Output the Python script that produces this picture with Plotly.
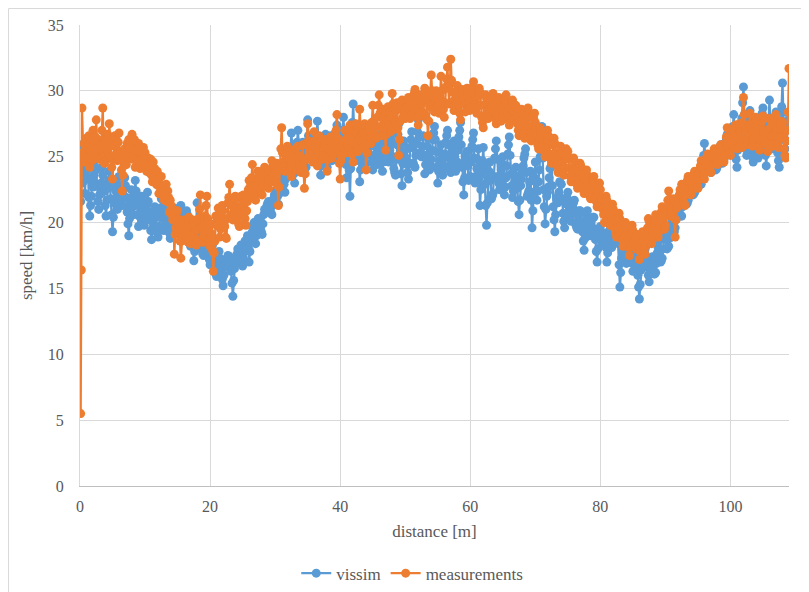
import plotly.graph_objects as go

distance = [0.0, 0.1, 0.2, 0.3,
    0.5, 0.625, 0.75, 0.875, 1.0, 1.125, 1.25, 1.375, 1.5, 1.625, 1.75, 1.875, 2.0, 2.125, 2.25, 2.375, 2.5, 2.625, 2.75, 2.875, 3.0, 3.125, 3.25, 3.375, 3.5, 3.625, 3.75, 3.875, 4.0, 4.125, 4.25, 4.375, 4.5, 4.625, 4.75, 4.875, 5.0, 5.125, 5.25, 5.375,
    5.5, 5.625, 5.75, 5.875, 6.0, 6.125, 6.25, 6.375, 6.5, 6.625, 6.75, 6.875, 7.0, 7.125, 7.25, 7.375, 7.5, 7.625, 7.75, 7.875, 8.0, 8.125, 8.25, 8.375, 8.5, 8.625, 8.75, 8.875, 9.0, 9.125, 9.25, 9.375, 9.5, 9.625, 9.75, 9.875, 10.0, 10.125, 10.25, 10.375,
    10.5, 10.625, 10.75, 10.875, 11.0, 11.125, 11.25, 11.375, 11.5, 11.625, 11.75, 11.875, 12.0, 12.125, 12.25, 12.375, 12.5, 12.625, 12.75, 12.875, 13.0, 13.125, 13.25, 13.375, 13.5, 13.625, 13.75, 13.875, 14.0, 14.125, 14.25, 14.375, 14.5, 14.625, 14.75, 14.875, 15.0, 15.125, 15.25, 15.375,
    15.5, 15.625, 15.75, 15.875, 16.0, 16.125, 16.25, 16.375, 16.5, 16.625, 16.75, 16.875, 17.0, 17.125, 17.25, 17.375, 17.5, 17.625, 17.75, 17.875, 18.0, 18.125, 18.25, 18.375, 18.5, 18.625, 18.75, 18.875, 19.0, 19.125, 19.25, 19.375, 19.5, 19.625, 19.75, 19.875, 20.0, 20.125, 20.25, 20.375,
    20.5, 20.625, 20.75, 20.875, 21.0, 21.125, 21.25, 21.375, 21.5, 21.625, 21.75, 21.875, 22.0, 22.125, 22.25, 22.375, 22.5, 22.625, 22.75, 22.875, 23.0, 23.125, 23.25, 23.375, 23.5, 23.625, 23.75, 23.875, 24.0, 24.125, 24.25, 24.375, 24.5, 24.625, 24.75, 24.875, 25.0, 25.125, 25.25, 25.375,
    25.5, 25.625, 25.75, 25.875, 26.0, 26.125, 26.25, 26.375, 26.5, 26.625, 26.75, 26.875, 27.0, 27.125, 27.25, 27.375, 27.5, 27.625, 27.75, 27.875, 28.0, 28.125, 28.25, 28.375, 28.5, 28.625, 28.75, 28.875, 29.0, 29.125, 29.25, 29.375, 29.5, 29.625, 29.75, 29.875, 30.0, 30.125, 30.25, 30.375,
    30.5, 30.625, 30.75, 30.875, 31.0, 31.125, 31.25, 31.375, 31.5, 31.625, 31.75, 31.875, 32.0, 32.125, 32.25, 32.375, 32.5, 32.625, 32.75, 32.875, 33.0, 33.125, 33.25, 33.375, 33.5, 33.625, 33.75, 33.875, 34.0, 34.125, 34.25, 34.375, 34.5, 34.625, 34.75, 34.875, 35.0, 35.125, 35.25, 35.375,
    35.5, 35.625, 35.75, 35.875, 36.0, 36.125, 36.25, 36.375, 36.5, 36.625, 36.75, 36.875, 37.0, 37.125, 37.25, 37.375, 37.5, 37.625, 37.75, 37.875, 38.0, 38.125, 38.25, 38.375, 38.5, 38.625, 38.75, 38.875, 39.0, 39.125, 39.25, 39.375, 39.5, 39.625, 39.75, 39.875, 40.0, 40.125, 40.25, 40.375,
    40.5, 40.625, 40.75, 40.875, 41.0, 41.125, 41.25, 41.375, 41.5, 41.625, 41.75, 41.875, 42.0, 42.125, 42.25, 42.375, 42.5, 42.625, 42.75, 42.875, 43.0, 43.125, 43.25, 43.375, 43.5, 43.625, 43.75, 43.875, 44.0, 44.125, 44.25, 44.375, 44.5, 44.625, 44.75, 44.875, 45.0, 45.125, 45.25, 45.375,
    45.5, 45.625, 45.75, 45.875, 46.0, 46.125, 46.25, 46.375, 46.5, 46.625, 46.75, 46.875, 47.0, 47.125, 47.25, 47.375, 47.5, 47.625, 47.75, 47.875, 48.0, 48.125, 48.25, 48.375, 48.5, 48.625, 48.75, 48.875, 49.0, 49.125, 49.25, 49.375, 49.5, 49.625, 49.75, 49.875, 50.0, 50.125, 50.25, 50.375,
    50.5, 50.625, 50.75, 50.875, 51.0, 51.125, 51.25, 51.375, 51.5, 51.625, 51.75, 51.875, 52.0, 52.125, 52.25, 52.375, 52.5, 52.625, 52.75, 52.875, 53.0, 53.125, 53.25, 53.375, 53.5, 53.625, 53.75, 53.875, 54.0, 54.125, 54.25, 54.375, 54.5, 54.625, 54.75, 54.875, 55.0, 55.125, 55.25, 55.375,
    55.5, 55.625, 55.75, 55.875, 56.0, 56.125, 56.25, 56.375, 56.5, 56.625, 56.75, 56.875, 57.0, 57.125, 57.25, 57.375, 57.5, 57.625, 57.75, 57.875, 58.0, 58.125, 58.25, 58.375, 58.5, 58.625, 58.75, 58.875, 59.0, 59.125, 59.25, 59.375, 59.5, 59.625, 59.75, 59.875, 60.0, 60.125, 60.25, 60.375,
    60.5, 60.625, 60.75, 60.875, 61.0, 61.125, 61.25, 61.375, 61.5, 61.625, 61.75, 61.875, 62.0, 62.125, 62.25, 62.375, 62.5, 62.625, 62.75, 62.875, 63.0, 63.125, 63.25, 63.375, 63.5, 63.625, 63.75, 63.875, 64.0, 64.125, 64.25, 64.375, 64.5, 64.625, 64.75, 64.875, 65.0, 65.125, 65.25, 65.375,
    65.5, 65.625, 65.75, 65.875, 66.0, 66.125, 66.25, 66.375, 66.5, 66.625, 66.75, 66.875, 67.0, 67.125, 67.25, 67.375, 67.5, 67.625, 67.75, 67.875, 68.0, 68.125, 68.25, 68.375, 68.5, 68.625, 68.75, 68.875, 69.0, 69.125, 69.25, 69.375, 69.5, 69.625, 69.75, 69.875, 70.0, 70.125, 70.25, 70.375,
    70.5, 70.625, 70.75, 70.875, 71.0, 71.125, 71.25, 71.375, 71.5, 71.625, 71.75, 71.875, 72.0, 72.125, 72.25, 72.375, 72.5, 72.625, 72.75, 72.875, 73.0, 73.125, 73.25, 73.375, 73.5, 73.625, 73.75, 73.875, 74.0, 74.125, 74.25, 74.375, 74.5, 74.625, 74.75, 74.875, 75.0, 75.125, 75.25, 75.375,
    75.5, 75.625, 75.75, 75.875, 76.0, 76.125, 76.25, 76.375, 76.5, 76.625, 76.75, 76.875, 77.0, 77.125, 77.25, 77.375, 77.5, 77.625, 77.75, 77.875, 78.0, 78.125, 78.25, 78.375, 78.5, 78.625, 78.75, 78.875, 79.0, 79.125, 79.25, 79.375, 79.5, 79.625, 79.75, 79.875, 80.0, 80.125, 80.25, 80.375,
    80.5, 80.625, 80.75, 80.875, 81.0, 81.125, 81.25, 81.375, 81.5, 81.625, 81.75, 81.875, 82.0, 82.125, 82.25, 82.375, 82.5, 82.625, 82.75, 82.875, 83.0, 83.125, 83.25, 83.375, 83.5, 83.625, 83.75, 83.875, 84.0, 84.125, 84.25, 84.375, 84.5, 84.625, 84.75, 84.875, 85.0, 85.125, 85.25, 85.375,
    85.5, 85.625, 85.75, 85.875, 86.0, 86.125, 86.25, 86.375, 86.5, 86.625, 86.75, 86.875, 87.0, 87.125, 87.25, 87.375, 87.5, 87.625, 87.75, 87.875, 88.0, 88.125, 88.25, 88.375, 88.5, 88.625, 88.75, 88.875, 89.0, 89.125, 89.25, 89.375, 89.5, 89.625, 89.75, 89.875, 90.0, 90.125, 90.25, 90.375,
    90.5, 90.625, 90.75, 90.875, 91.0, 91.125, 91.25, 91.375, 91.5, 91.625, 91.75, 91.875, 92.0, 92.125, 92.25, 92.375, 92.5, 92.625, 92.75, 92.875, 93.0, 93.125, 93.25, 93.375, 93.5, 93.625, 93.75, 93.875, 94.0, 94.125, 94.25, 94.375, 94.5, 94.625, 94.75, 94.875, 95.0, 95.125, 95.25, 95.375,
    95.5, 95.625, 95.75, 95.875, 96.0, 96.125, 96.25, 96.375, 96.5, 96.625, 96.75, 96.875, 97.0, 97.125, 97.25, 97.375, 97.5, 97.625, 97.75, 97.875, 98.0, 98.125, 98.25, 98.375, 98.5, 98.625, 98.75, 98.875, 99.0, 99.125, 99.25, 99.375, 99.5, 99.625, 99.75, 99.875, 100.0, 100.125, 100.25, 100.375,
    100.5, 100.625, 100.75, 100.875, 101.0, 101.125, 101.25, 101.375, 101.5, 101.625, 101.75, 101.875, 102.0, 102.125, 102.25, 102.375, 102.5, 102.625, 102.75, 102.875, 103.0, 103.125, 103.25, 103.375, 103.5, 103.625, 103.75, 103.875, 104.0, 104.125, 104.25, 104.375, 104.5, 104.625, 104.75, 104.875, 105.0, 105.125, 105.25, 105.375,
    105.5, 105.625, 105.75, 105.875, 106.0, 106.125, 106.25, 106.375, 106.5, 106.625, 106.75, 106.875, 107.0, 107.125, 107.25, 107.375, 107.5, 107.625, 107.75, 107.875, 108.0, 108.125, 108.25, 108.375, 108.5, 108.625, 108.75, 108.875, 109.0]

vissim = [24.8, 21.6, 23.0, 25.9,
    23.1, 24.0, 22.2, 23.3, 24.6, 24.0, 23.4, 21.9, 20.5, 21.3, 22.0, 23.1, 22.7, 23.6, 24.3, 22.8, 24.0, 22.9, 21.6, 21.0, 22.1, 22.6, 23.0, 24.2, 23.6, 22.9, 22.4, 21.3, 20.5, 21.7, 22.6, 23.2, 23.9, 22.7, 21.8, 20.6, 19.3, 20.4, 21.5, 22.9,
    22.4, 21.8, 21.0, 22.2, 23.5, 22.8, 22.3, 21.7, 21.3, 22.1, 22.9, 23.4, 22.8, 21.9, 20.8, 19.9, 19.0, 20.3, 21.4, 22.5, 21.9, 21.2, 20.6, 22.0, 23.2, 22.4, 21.7, 20.6, 19.7, 20.5, 21.2, 21.7, 22.0, 21.0, 20.1, 19.8, 20.4, 20.9, 21.3, 22.3,
    21.6, 20.8, 20.2, 19.4, 18.7, 19.5, 20.1, 20.8, 21.2, 20.4, 19.6, 19.2, 18.9, 19.7, 20.5, 21.1, 21.8, 21.0, 20.3, 19.4, 19.8, 20.3, 20.7, 21.3, 20.9, 20.0, 19.2, 18.8, 19.4, 19.9, 20.5, 20.9, 21.1, 20.6, 20.0, 19.5, 19.9, 20.3, 20.6, 21.0,
    21.3, 20.6, 20.0, 19.6, 19.1, 19.8, 20.3, 20.9, 20.6, 19.8, 19.0, 18.5, 18.2, 18.9, 19.4, 18.3, 17.1, 17.8, 18.6, 20.0, 21.5, 20.2, 19.0, 18.6, 18.4, 18.8, 17.9, 17.6, 17.5, 18.1, 18.8, 19.4, 19.2, 18.5, 17.7, 17.2, 16.8, 17.4, 18.1, 18.3,
    17.6, 17.0, 16.4, 16.1, 15.9, 16.5, 17.0, 17.8, 17.3, 16.7, 16.2, 15.7, 15.2, 16.0, 16.8, 17.2, 16.6, 17.1, 17.5, 16.9, 17.4, 16.8, 16.3, 15.4, 14.4, 15.6, 16.5, 17.2, 16.9, 17.6, 18.0, 17.4, 17.0, 17.7, 18.3, 17.5, 16.7, 17.3, 17.8, 18.6,
    18.2, 18.7, 19.0, 18.1, 17.0, 17.8, 18.6, 19.0, 19.3, 19.7, 20.0, 19.2, 18.4, 19.0, 19.6, 20.3, 20.2, 19.8, 19.5, 19.3, 19.1, 19.9, 20.6, 21.0, 20.8, 21.1, 21.3, 21.5, 21.6, 21.2, 20.9, 20.7, 20.6, 21.3, 21.8, 22.1, 22.0, 22.3, 22.5, 22.0,
    21.4, 22.2, 22.9, 23.2, 22.8, 23.1, 23.5, 22.9, 22.3, 23.3, 24.2, 23.9, 23.6, 24.3, 24.8, 25.7, 26.8, 25.6, 24.5, 23.7, 23.0, 24.1, 25.2, 26.1, 27.0, 26.0, 25.0, 24.6, 24.4, 25.3, 26.1, 25.8, 25.6, 24.9, 24.2, 26.0, 27.8, 26.6, 25.7, 25.3,
    24.9, 25.5, 26.0, 26.6, 26.3, 25.7, 25.2, 26.4, 27.7, 26.5, 25.5, 24.5, 23.6, 24.3, 25.0, 25.4, 25.8, 26.2, 26.7, 25.4, 24.2, 24.8, 25.4, 26.0, 26.6, 25.6, 24.7, 24.9, 25.1, 25.8, 26.4, 26.9, 27.4, 26.5, 25.6, 25.1, 24.6, 25.3, 26.0, 27.0,
    28.0, 26.7, 25.4, 24.4, 23.4, 24.6, 25.9, 24.0, 22.0, 24.1, 26.3, 27.6, 29.0, 27.1, 25.2, 24.9, 24.7, 25.6, 26.6, 24.9, 23.1, 24.0, 25.0, 25.7, 26.2, 25.2, 24.3, 24.4, 24.5, 25.6, 26.8, 27.2, 27.0, 26.0, 25.1, 24.6, 24.0, 24.9, 25.8, 26.1,
    26.5, 25.3, 24.4, 24.7, 25.0, 25.9, 26.7, 25.2, 23.9, 24.6, 25.3, 26.3, 27.2, 26.4, 25.6, 25.1, 24.6, 25.5, 26.4, 26.2, 26.0, 25.0, 24.1, 23.8, 23.6, 24.8, 25.9, 26.7, 27.5, 26.1, 24.8, 23.7, 22.8, 24.5, 26.2, 25.8, 25.5, 24.9, 24.4, 23.8,
    23.3, 24.5, 25.7, 26.3, 26.9, 25.7, 24.5, 24.3, 24.2, 25.1, 26.0, 26.9, 27.8, 26.5, 25.3, 25.1, 25.0, 25.8, 26.6, 25.1, 23.7, 24.4, 25.1, 25.8, 26.4, 25.2, 24.0, 24.4, 24.8, 25.5, 26.3, 26.8, 27.3, 26.3, 25.4, 24.2, 23.0, 23.9, 24.7, 25.3,
    25.9, 24.7, 23.6, 24.0, 24.3, 25.2, 26.1, 26.6, 27.0, 25.9, 24.9, 24.3, 23.8, 24.6, 25.5, 25.8, 26.2, 25.0, 23.9, 24.2, 24.6, 25.5, 26.5, 27.0, 27.6, 25.9, 24.2, 23.1, 22.1, 23.4, 24.8, 25.1, 25.4, 24.3, 23.2, 23.3, 23.5, 24.6, 25.8, 26.3,
    26.8, 24.9, 23.0, 23.5, 24.1, 24.8, 25.6, 23.4, 21.3, 22.5, 23.7, 24.7, 25.7, 24.3, 22.9, 21.3, 19.8, 21.5, 23.3, 23.9, 24.6, 23.2, 21.8, 22.0, 22.2, 23.5, 24.9, 25.6, 26.2, 24.8, 23.5, 23.0, 22.5, 23.2, 24.0, 24.5, 25.0, 23.5, 22.1, 22.7,
    23.4, 24.3, 25.2, 25.9, 26.5, 25.1, 23.7, 22.8, 21.9, 22.4, 23.0, 23.6, 24.2, 23.4, 22.6, 21.6, 20.6, 21.7, 22.8, 23.3, 23.8, 24.3, 24.9, 25.2, 25.6, 23.8, 22.0, 22.2, 22.4, 23.1, 23.9, 21.7, 19.6, 20.9, 22.3, 23.4, 24.6, 23.1, 21.7, 22.4,
    23.1, 24.0, 25.0, 26.1, 27.3, 24.9, 22.5, 21.2, 19.9, 21.0, 22.0, 22.3, 22.7, 23.4, 24.1, 24.2, 24.4, 22.8, 21.2, 20.2, 19.3, 20.6, 21.9, 21.7, 21.5, 22.3, 23.1, 23.0, 22.9, 21.8, 20.7, 20.1, 19.6, 20.5, 21.4, 21.9, 22.3, 21.6, 20.9, 20.5,
    20.1, 20.7, 21.2, 21.5, 21.7, 20.7, 19.8, 19.6, 19.5, 20.2, 20.9, 20.9, 20.8, 20.0, 19.3, 18.6, 17.9, 18.8, 19.8, 20.4, 20.9, 20.2, 19.6, 19.3, 19.0, 19.7, 20.3, 20.4, 20.4, 19.5, 18.7, 17.8, 17.0, 18.0, 19.1, 19.4, 19.7, 19.1, 18.6, 18.4,
    18.3, 18.8, 19.2, 18.1, 17.0, 17.7, 18.5, 19.0, 19.5, 18.8, 18.1, 18.4, 18.8, 19.2, 19.6, 20.0, 20.4, 19.4, 18.4, 16.8, 15.1, 16.2, 17.3, 17.7, 18.0, 17.5, 17.1, 17.0, 16.9, 17.5, 18.2, 18.7, 19.1, 18.2, 17.4, 16.9, 16.3, 17.0, 17.8, 17.7,
    17.6, 16.8, 16.0, 15.1, 14.2, 15.3, 16.4, 16.5, 16.7, 17.2, 17.8, 18.0, 18.2, 17.4, 16.6, 16.0, 15.5, 16.2, 16.9, 17.1, 17.4, 16.7, 16.1, 16.1, 16.2, 16.9, 17.7, 18.1, 18.6, 17.8, 17.0, 17.1, 17.3, 18.0, 18.8, 19.1, 19.4, 18.7, 18.0, 18.1,
    18.2, 18.8, 19.5, 19.9, 20.3, 19.7, 19.1, 19.3, 19.6, 20.2, 20.8, 21.1, 21.5, 21.0, 20.6, 20.5, 20.5, 21.2, 21.9, 22.1, 22.4, 21.9, 21.4, 21.5, 21.7, 22.2, 22.8, 23.0, 23.2, 22.6, 22.1, 22.2, 22.3, 22.9, 23.5, 23.7, 23.9, 23.4, 23.0, 23.0,
    22.9, 23.5, 24.2, 25.1, 26.0, 25.0, 24.1, 24.3, 24.6, 24.8, 25.0, 24.4, 23.8, 24.4, 24.9, 25.1, 25.4, 24.7, 24.0, 24.1, 24.3, 25.0, 25.6, 25.7, 25.9, 25.2, 24.5, 24.6, 24.8, 25.4, 26.1, 26.4, 26.7, 26.0, 25.2, 25.2, 25.3, 25.8, 26.4, 27.3,
    28.2, 26.8, 25.5, 24.8, 24.2, 25.5, 26.9, 26.8, 26.8, 27.3, 27.9, 29.1, 30.3, 28.2, 26.2, 25.6, 25.1, 26.2, 27.3, 27.9, 28.5, 27.0, 25.4, 25.0, 24.6, 25.6, 26.7, 27.1, 27.6, 26.2, 24.9, 25.3, 25.8, 26.9, 28.0, 28.3, 28.7, 27.3, 25.9, 25.1,
    24.3, 25.4, 26.6, 27.9, 29.3, 27.6, 26.0, 25.8, 25.6, 26.7, 27.8, 28.1, 28.4, 26.8, 25.3, 24.7, 24.2, 25.6, 27.1, 28.8, 30.6, 28.4, 26.3, 25.6, 25.0, 26.2, 27.4, 27.8, 28.3]

measurements = [24.9, 5.5, 16.4, 28.7,
    25.3, 26.0, 24.6, 25.5, 26.4, 24.9, 25.7, 26.6, 24.2, 25.0, 26.1, 24.7, 27.0, 26.2, 25.2, 26.5, 27.8, 25.6, 26.3, 24.9, 24.8, 25.8, 26.0, 27.0, 28.7, 25.4, 24.5, 26.2, 25.6, 24.8, 26.7, 25.3, 27.5, 26.1, 25.0, 24.2, 23.3, 24.8, 25.8, 26.6,
    25.9, 25.2, 24.7, 26.1, 26.8, 24.9, 25.4, 24.0, 22.4, 23.6, 24.3, 25.6, 25.1, 24.4, 26.0, 25.0, 26.3, 25.7, 24.9, 26.2, 26.7, 24.8, 25.6, 26.3, 24.2, 24.9, 25.5, 24.6, 26.0, 25.2, 24.1, 25.3, 24.8, 24.3, 25.7, 24.5, 25.3, 24.7, 23.9, 24.5,
    24.9, 23.8, 24.2, 24.8, 23.6, 23.1, 24.6, 23.5, 24.1, 23.3, 22.9, 23.9, 22.8, 22.2, 23.4, 22.7, 23.5, 22.6, 22.1, 21.8, 21.7, 22.5, 22.9, 21.6, 22.4, 21.9, 20.8, 21.7, 21.3, 20.6, 20.2, 21.0, 17.6, 19.1, 19.6, 20.4, 20.9, 19.9, 19.3, 18.6,
    17.3, 18.6, 19.0, 19.8, 20.2, 19.3, 18.9, 20.0, 19.6, 18.5, 20.4, 19.7, 18.4, 18.9, 19.2, 20.2, 20.1, 18.8, 19.4, 18.3, 18.7, 19.5, 20.3, 21.0, 22.1, 20.0, 19.6, 18.5, 19.0, 19.7, 20.5, 21.3, 22.0, 20.3, 19.5, 18.6, 18.2, 19.2, 19.9, 17.9,
    16.3, 17.7, 18.6, 20.5, 19.8, 20.3, 21.1, 19.9, 18.9, 19.5, 20.4, 21.3, 20.9, 20.1, 19.7, 18.9, 18.8, 20.3, 21.5, 21.9, 22.9, 21.4, 20.6, 21.3, 20.2, 20.8, 21.0, 22.0, 21.8, 21.1, 20.5, 19.9, 19.7, 21.2, 22.0, 20.9, 21.4, 22.1, 20.7, 20.3,
    19.8, 20.9, 21.6, 22.5, 23.2, 22.7, 22.0, 23.4, 24.4, 23.3, 22.8, 22.2, 21.7, 22.6, 23.0, 23.9, 23.6, 22.8, 22.4, 23.1, 22.1, 22.8, 23.5, 24.2, 23.9, 23.3, 22.9, 23.6, 22.6, 23.4, 24.0, 23.1, 24.7, 24.3, 23.6, 24.1, 23.2, 23.8, 24.5, 22.8,
    21.3, 22.7, 24.1, 25.6, 27.2, 25.3, 24.6, 24.3, 23.9, 24.5, 25.0, 25.8, 25.2, 24.7, 24.3, 24.0, 23.5, 24.6, 25.5, 25.3, 24.9, 25.6, 24.0, 24.8, 25.8, 25.1, 24.6, 24.2, 23.8, 24.9, 25.9, 24.0, 22.6, 23.7, 24.8, 26.0, 27.5, 26.2, 25.1, 26.0,
    25.4, 25.9, 24.6, 25.8, 26.9, 26.2, 25.7, 24.9, 24.3, 25.5, 26.6, 25.4, 26.1, 25.6, 24.8, 25.7, 25.0, 25.9, 26.3, 25.1, 23.9, 24.8, 25.6, 26.2, 26.5, 25.4, 24.9, 26.0, 25.2, 25.8, 26.8, 27.0, 28.2, 26.4, 25.5, 24.5, 23.3, 24.7, 25.9, 25.2,
    26.2, 25.6, 27.0, 26.3, 25.3, 25.9, 26.5, 27.1, 27.4, 26.4, 25.6, 25.2, 24.6, 25.9, 26.9, 27.5, 26.8, 26.0, 25.4, 27.1, 28.6, 27.3, 26.6, 26.1, 25.7, 26.8, 27.5, 25.8, 24.0, 25.3, 26.1, 26.9, 27.3, 26.5, 26.0, 27.6, 28.9, 27.7, 27.2, 26.7,
    26.4, 27.3, 28.0, 28.9, 29.7, 28.3, 27.3, 26.6, 27.1, 27.9, 28.6, 26.9, 25.5, 26.7, 27.8, 28.8, 28.3, 27.4, 26.9, 28.1, 29.8, 29.0, 28.4, 27.1, 27.6, 28.5, 29.1, 27.2, 25.1, 26.3, 27.7, 28.6, 29.3, 28.0, 28.5, 29.2, 27.9, 28.4, 29.0, 28.8,
    29.5, 28.6, 27.9, 29.0, 28.2, 28.8, 29.4, 29.8, 30.1, 29.3, 28.6, 28.0, 27.4, 28.3, 29.2, 29.7, 29.0, 28.4, 28.1, 29.4, 30.2, 29.8, 29.3, 27.8, 26.6, 27.7, 28.8, 29.9, 31.2, 30.0, 29.5, 28.9, 28.4, 29.2, 30.0, 29.4, 29.7, 28.9, 28.3, 29.6,
    31.1, 30.0, 29.2, 28.6, 28.0, 29.1, 30.3, 30.9, 31.8, 30.2, 29.0, 30.6, 32.4, 30.8, 29.9, 29.2, 28.5, 28.9, 29.4, 29.9, 30.4, 29.6, 28.9, 28.3, 27.8, 29.0, 30.1, 29.4, 29.6, 29.0, 28.4, 29.3, 30.2, 29.7, 29.1, 28.5, 28.7, 29.4, 29.8, 30.3,
    30.7, 29.8, 29.2, 28.7, 28.3, 28.9, 29.6, 30.2, 29.9, 28.9, 28.0, 27.6, 27.2, 28.1, 28.9, 29.7, 29.4, 28.5, 27.9, 28.2, 28.6, 29.1, 29.5, 28.8, 29.8, 29.1, 28.4, 27.9, 27.5, 28.2, 28.8, 29.5, 29.3, 28.4, 27.7, 28.3, 28.1, 28.7, 29.0, 29.4,
    29.7, 29.0, 28.3, 27.8, 27.4, 28.0, 28.7, 29.0, 29.3, 28.5, 27.8, 28.4, 28.9, 28.2, 27.5, 27.0, 26.6, 27.4, 28.1, 28.6, 28.2, 27.5, 26.9, 26.4, 27.3, 27.9, 28.4, 28.7, 28.0, 27.3, 26.8, 26.2, 26.5, 27.2, 27.9, 28.3, 27.6, 27.0, 26.3, 25.9,
    25.6, 26.4, 27.2, 27.0, 26.9, 26.3, 25.8, 25.4, 25.0, 25.7, 26.3, 27.0, 26.6, 25.9, 25.2, 24.8, 24.5, 25.1, 25.9, 26.4, 26.0, 25.3, 24.7, 24.3, 23.8, 24.5, 25.1, 25.8, 25.5, 24.6, 24.0, 23.6, 24.2, 24.9, 25.6, 25.0, 25.4, 24.8, 24.1, 23.5,
    23.1, 23.7, 24.2, 24.9, 24.7, 24.0, 23.4, 22.9, 22.6, 23.3, 23.9, 24.5, 24.3, 23.5, 22.9, 22.5, 22.2, 22.7, 23.3, 24.0, 23.6, 23.0, 22.4, 22.0, 21.8, 22.4, 22.9, 23.2, 23.5, 22.6, 21.9, 21.6, 21.2, 21.7, 22.1, 23.0, 22.5, 21.8, 21.3, 21.0,
    20.6, 20.0, 21.2, 22.0, 21.7, 21.0, 20.4, 20.1, 19.8, 20.5, 20.9, 21.4, 21.0, 20.2, 19.5, 19.2, 18.9, 19.6, 20.1, 20.7, 20.3, 19.7, 19.1, 18.7, 18.2, 18.8, 19.4, 20.0, 19.7, 19.0, 18.6, 18.1, 17.5, 18.3, 18.9, 19.8, 19.4, 18.9, 18.4, 18.8,
    18.0, 18.6, 19.1, 18.1, 17.2, 17.8, 18.5, 18.9, 19.3, 18.6, 18.0, 17.6, 18.3, 19.0, 19.6, 20.3, 20.1, 19.4, 18.9, 18.4, 18.7, 19.3, 19.8, 20.2, 20.6, 20.0, 19.5, 18.9, 19.3, 19.9, 20.4, 20.8, 21.2, 20.6, 20.0, 19.5, 19.8, 20.5, 21.0, 21.7,
    22.4, 21.8, 21.3, 20.8, 20.5, 21.2, 21.8, 20.3, 18.9, 20.2, 21.1, 21.4, 21.6, 22.1, 22.5, 22.0, 22.9, 22.3, 21.9, 21.5, 21.3, 22.1, 22.7, 23.2, 23.5, 23.0, 22.6, 22.1, 22.2, 22.9, 23.4, 23.7, 23.9, 23.4, 23.0, 22.8, 22.6, 23.3, 23.8, 24.3,
    24.7, 24.2, 23.9, 23.6, 23.3, 24.0, 24.5, 25.0, 25.2, 24.6, 24.2, 24.0, 23.8, 24.4, 25.0, 25.3, 25.6, 25.1, 24.7, 24.9, 24.4, 25.0, 25.5, 25.7, 25.9, 25.4, 25.0, 24.8, 24.6, 25.4, 26.0, 26.5, 27.2, 26.4, 25.8, 25.4, 25.1, 25.9, 26.6, 27.0,
    26.3, 26.9, 27.4, 26.5, 25.6, 26.2, 26.8, 27.5, 26.9, 26.3, 25.7, 27.6, 29.5, 28.2, 27.0, 26.3, 25.9, 26.1, 26.5, 27.4, 28.3, 27.2, 26.1, 25.8, 26.4, 27.0, 27.5, 28.0, 27.8, 26.9, 26.2, 25.8, 25.5, 26.3, 27.1, 27.7, 28.1, 27.0, 26.0, 26.3,
    26.7, 26.0, 25.4, 26.6, 27.9, 27.2, 26.5, 26.1, 25.8, 26.6, 27.3, 27.8, 28.2, 27.0, 26.0, 25.7, 26.4, 27.1, 27.7, 27.2, 27.6, 26.5, 25.6, 25.1, 24.9, 26.2, 27.0, 28.4, 31.7]

assert len(distance) == len(vissim) == len(measurements), (len(distance), len(vissim), len(measurements))

x_ticks = [0, 20, 40, 60, 80, 100]
y_ticks = [0, 5, 10, 15, 20, 25, 30, 35]

BLUE = "#5B9BD5"
ORANGE = "#ED7D31"
FONT = "Times New Roman, Liberation Serif, DejaVu Serif, serif"
TXT = "#595959"

fig = go.Figure()
fig.add_trace(go.Scatter(x=distance, y=vissim, name="vissim", mode="lines+markers",
                         line=dict(color=BLUE, width=2.3),
                         marker=dict(color=BLUE, size=9, symbol="circle")))
fig.add_trace(go.Scatter(x=distance, y=measurements, name="measurements", mode="lines+markers",
                         line=dict(color=ORANGE, width=2.3),
                         marker=dict(color=ORANGE, size=9, symbol="circle")))

fig.update_layout(
    width=801, height=584,
    margin=dict(l=72, r=20, t=17, b=106, autoexpand=False),
    paper_bgcolor="white", plot_bgcolor="white",
    font=dict(family=FONT, size=16, color=TXT),
    showlegend=True,
    legend=dict(orientation="h", x=0.305, xanchor="left", y=-0.19, yanchor="middle",
                font=dict(family=FONT, size=17, color=TXT),
                tracegroupgap=0),
    xaxis=dict(range=[0, 109], tickvals=x_ticks, showgrid=True, gridcolor="#D9D9D9", gridwidth=1,
               zeroline=False, showline=True, linecolor="#BFBFBF", linewidth=1, automargin=False,
               ticks="outside", ticklen=6, tickcolor="rgba(0,0,0,0)",
               tickfont=dict(family=FONT, size=16, color=TXT),
               title=dict(text="distance [m]", standoff=10, font=dict(family=FONT, size=17, color=TXT))),
    yaxis=dict(range=[0, 35], tickvals=y_ticks, showgrid=True, gridcolor="#D9D9D9", gridwidth=1,
               zeroline=False, showline=True, linecolor="#D9D9D9", linewidth=1, automargin=False,
               ticks="outside", ticklen=12, tickcolor="rgba(0,0,0,0)",
               tickfont=dict(family=FONT, size=16, color=TXT),
               title=dict(text="speed [km/h]", standoff=10, font=dict(family=FONT, size=17, color=TXT))),
    shapes=[
        dict(type="line", xref="paper", yref="paper", x0=-0.1008, x1=1.05, y0=1.0358, y1=1.0358,
             line=dict(color="#D9D9D9", width=1)),
        dict(type="line", xref="paper", yref="paper", x0=-0.1008, x1=-0.1008, y0=1.0358, y1=-0.25,
             line=dict(color="#D9D9D9", width=1)),
    ],
)

fig.write_html("out.html")
